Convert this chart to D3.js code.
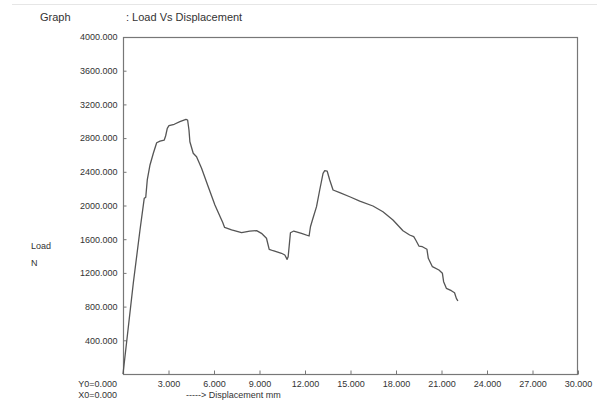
<!DOCTYPE html>
<html>
<head>
<meta charset="utf-8">
<script src="https://cdn.jsdelivr.net/npm/d3@7"></script>
<style>
  html, body { margin: 0; padding: 0; background: #fff; }
  svg { display: block; font-family: "Liberation Sans", Arial, sans-serif; }
</style>
</head>
<body>
<svg id="chart" width="597" height="410"></svg>
<script>
// ---- data ----
const displacement = [0, 0.68, 1.12, 1.40, 1.50, 1.60, 1.78, 2.00, 2.22, 2.44, 2.72, 2.81, 2.92, 3.03, 3.38, 3.75, 4.15, 4.26, 4.35, 4.41, 4.63, 4.85, 5.18, 5.62, 6.06, 6.45, 6.57, 6.70, 7.16, 7.82, 8.36, 8.81, 9.13, 9.46, 9.64, 9.90, 10.45, 10.67, 10.82, 10.89, 11.04, 11.26, 11.77, 12.27, 12.36, 12.49, 12.76, 12.97, 13.19, 13.30, 13.46, 13.63, 13.85, 14.29, 14.95, 15.61, 16.48, 17.14, 17.80, 18.46, 18.90, 19.17, 19.30, 19.51, 19.74, 20.04, 20.13, 20.40, 20.83, 21.06, 21.14, 21.32, 21.65, 21.86, 21.98, 22.08];
const load = [0, 1080, 1709, 2085, 2097, 2303, 2481, 2620, 2745, 2765, 2777, 2825, 2916, 2947, 2964, 2995, 3023, 3015, 2896, 2757, 2620, 2579, 2441, 2223, 2006, 1848, 1800, 1740, 1712, 1677, 1697, 1701, 1670, 1611, 1480, 1463, 1433, 1412, 1361, 1392, 1677, 1697, 1670, 1638, 1748, 1828, 1986, 2184, 2382, 2413, 2409, 2303, 2184, 2152, 2104, 2053, 1994, 1926, 1828, 1701, 1650, 1630, 1590, 1519, 1511, 1480, 1373, 1274, 1234, 1195, 1096, 1017, 989, 965, 898, 866];
const xTicks = [3, 6, 9, 12, 15, 18, 21, 24, 27, 30];
const yTicks = [400, 800, 1200, 1600, 2000, 2400, 2800, 3200, 3600, 4000];
const titleLabel = "Graph";
const titleText = ":  Load Vs Displacement";
const yLabel1 = "Load";
const yLabel2 = "N";
const xLabel = "-----> Displacement  mm";
const originY = "Y0=0.000";
const originX = "X0=0.000";

// ---- layout ----
const svg = d3.select("#chart");
const L = 123, R = 578, T = 37, B = 374;
const x = d3.scaleLinear().domain([0, 30]).range([L, R]);
const y = d3.scaleLinear().domain([0, 4000]).range([B, T]);
const fmt = d3.format(".3f");
const textCol = "#333";

// faint top rule
svg.append("line").attr("x1", 12).attr("x2", 597).attr("y1", 4.5).attr("y2", 4.5)
  .attr("stroke", "#e6e6e6").attr("stroke-width", 1);

// title
svg.append("text").attr("x", 40).attr("y", 21).attr("font-size", 11).attr("fill", textCol).text(titleLabel);
svg.append("text").attr("x", 126).attr("y", 21).attr("font-size", 11).attr("fill", textCol).text(titleText);

// frame
svg.append("rect").attr("x", L + 0.5).attr("y", T + 0.5).attr("width", R - L - 1).attr("height", B - T)
  .attr("fill", "none").attr("stroke", "#777").attr("stroke-width", 1.2);

// y axis
const gy = svg.append("g").attr("transform", `translate(${L + 0.5},0)`)
  .call(d3.axisLeft(y).tickValues(yTicks).tickFormat(fmt).tickSizeInner(-3).tickSizeOuter(0).tickPadding(6));
gy.select(".domain").remove();
gy.selectAll("line").attr("stroke", "#777");
gy.selectAll("text").attr("font-size", 9).attr("fill", textCol).attr("font-family", "Liberation Sans, Arial, sans-serif");

// x axis
const gx = svg.append("g").attr("transform", `translate(0,${B + 0.5})`)
  .call(d3.axisBottom(x).tickValues(xTicks).tickFormat(fmt).tickSizeInner(-4).tickSizeOuter(0).tickPadding(6));
gx.select(".domain").remove();
gx.selectAll("line").attr("stroke", "#777");
gx.selectAll("text").attr("font-size", 9).attr("fill", textCol).attr("font-family", "Liberation Sans, Arial, sans-serif");

// origin labels
svg.append("text").attr("x", 117).attr("y", 387).attr("text-anchor", "end").attr("font-size", 9).attr("fill", textCol).text(originY);
svg.append("text").attr("x", 117).attr("y", 398).attr("text-anchor", "end").attr("font-size", 9).attr("fill", textCol).text(originX);
svg.append("text").attr("x", 186).attr("y", 398).attr("font-size", 9).attr("fill", textCol).text(xLabel);

// y label
svg.append("text").attr("x", 31).attr("y", 249).attr("font-size", 9).attr("fill", textCol).text(yLabel1);
svg.append("text").attr("x", 31).attr("y", 266).attr("font-size", 9).attr("fill", textCol).text(yLabel2);

// curve
const pts = displacement.map((d, i) => [d, load[i]]);
svg.append("path").datum(pts)
  .attr("fill", "none").attr("stroke", "#555").attr("stroke-width", 1.3).attr("stroke-linejoin", "round")
  .attr("d", d3.line().x(d => x(d[0])).y(d => y(d[1])));
</script>
</body>
</html>
